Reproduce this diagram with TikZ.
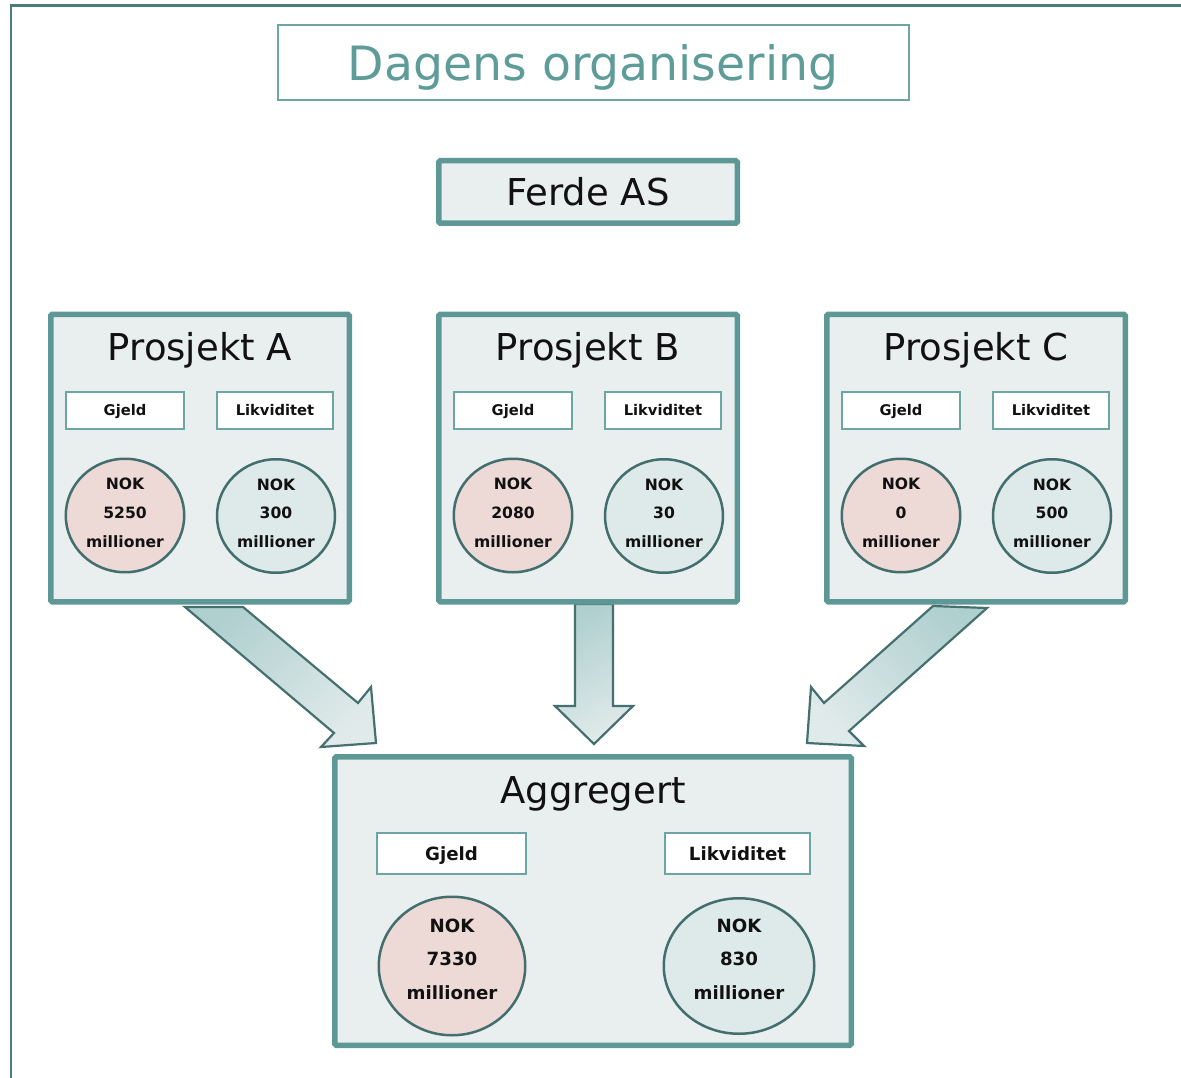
\documentclass[tikz,border=0pt]{standalone}
\usepackage{fontspec}
\setmainfont{DejaVu Sans}
\usetikzlibrary{shapes.geometric}
\definecolor{framec}{RGB}{78,122,122}
\definecolor{bord}{RGB}{94,152,150}
\definecolor{boxfill}{RGB}{233,238,238}
\definecolor{lblc}{RGB}{108,166,164}
\definecolor{circc}{RGB}{66,110,110}
\definecolor{pinkf}{RGB}{237,217,214}
\definecolor{tealf}{RGB}{221,234,233}
\definecolor{arrc}{RGB}{70,112,112}
\definecolor{arrdark}{RGB}{176,207,207}
\definecolor{arrlight}{RGB}{224,234,234}
\definecolor{titlec}{RGB}{94,156,154}
\definecolor{inkc}{RGB}{17,17,17}

\newcommand\projblock[5]{%
  \node[bigbox, minimum width=298.5, minimum height=287.5] (#1) at (#2+152,458) {};
  \node[heading] (#1h) at (#2+152,360) {#3};
  \node[lbl, minimum width=117.8, minimum height=36.8] (#1g) at (#2+77,410.5) {Gjeld};
  \node[lbl, minimum width=115.8, minimum height=36.8] (#1l) at (#2+227,410.5) {Likviditet};
  \node[circ, fill=pinkf, minimum width=118.5, minimum height=113.5] (#1gc) at (#2+77,515.5) {};
  \node[ctext] (#1gt) at (#2+77,512.7) {NOK\\#4\\millioner};
  \node[circ, fill=tealf, minimum width=118, minimum height=113.5] (#1lc) at (#2+228,516) {};
  \node[ctext] (#1lt) at (#2+228,513.2) {NOK\\#5\\millioner};
}

\begin{document}
\begin{tikzpicture}[x=1pt,y=-1pt,
  bigbox/.style={draw=bord, line width=5.5pt, fill=boxfill, rounded corners=1.5pt, inner sep=0pt},
  heading/.style={font=\fontsize{37}{44}\selectfont, text=inkc, inner sep=0pt, anchor=base},
  lbl/.style={draw=lblc, line width=2.2pt, fill=white, inner sep=0pt, text=inkc,
    font=\bfseries\fontsize{14.7}{17}\selectfont, text height=10.7pt, text depth=0pt},
  biglbl/.style={lbl, font=\bfseries\fontsize{18.2}{22}\selectfont, text height=13.3pt},
  circ/.style={ellipse, draw=circc, line width=2.5pt, inner sep=0pt},
  ctext/.style={align=center, inner sep=0pt, text=inkc, font=\bfseries\fontsize{15.6}{28.75}\selectfont},
  bigctext/.style={align=center, inner sep=0pt, text=inkc, font=\bfseries\fontsize{18.2}{33.6}\selectfont},
  blockarrow/.style={draw=arrc, line width=2.2pt, line join=miter, top color=arrdark, bottom color=arrlight}
]
\useasboundingbox (0,0) rectangle (1181,1078);
\fill[white] (0,0) rectangle (1181,1078);
% outer frame (left and top edges)
\draw[framec, line width=2.3pt] (11,1085) -- (11,5.5) -- (1190,5.5);

% title
\node[draw=lblc, line width=1.8pt, fill=white, minimum width=631, minimum height=75, inner sep=0pt] (title) at (593.5,62.5) {};
\node[anchor=base, text=titlec, font=\fontsize{47.3}{56}\selectfont, inner sep=0pt] (titletext) at (593,81) {Dagens organisering};

% Ferde AS
\node[bigbox, minimum width=298.5, minimum height=62.5, text=inkc, font=\fontsize{37}{44}\selectfont, text height=27pt, text depth=0pt] (ferde) at (588,192) {Ferde AS};

% block arrows (drawn beneath the boxes)
\draw[blockarrow, shading angle=45] (185,607) -- (243,607) -- (358,703) -- (371,687) -- (376,743) -- (321,747) -- (334,733) -- cycle;
\draw[blockarrow, shading angle=30] (575,604) -- (613,604) -- (613,706) -- (633,706) -- (594,744) -- (555,706) -- (575,706) -- cycle;
\draw[blockarrow, shading angle=-45] (933,606) -- (987,608) -- (849,731) -- (864,746) -- (807,743) -- (811,687) -- (824,703) -- cycle;

% project blocks
\projblock{pa}{48}{Prosjekt A}{5250}{300}
\projblock{pb}{436}{Prosjekt B}{2080}{30}
\projblock{pc}{824}{Prosjekt C}{0}{500}

% aggregated block
\node[bigbox, minimum width=516.5, minimum height=288.5] (agg) at (593,901) {};
\node[heading] (aggh) at (593,803) {Aggregert};
\node[biglbl, minimum width=148.8, minimum height=40.8] (aggg) at (451.5,853.5) {Gjeld};
\node[biglbl, minimum width=144.8, minimum height=40.8] (aggl) at (737.5,853.5) {Likviditet};
\node[circ, fill=pinkf, minimum width=146.5, minimum height=138.5] (agggc) at (452,966) {};
\node[bigctext] (agggt) at (452,959) {NOK\\7330\\millioner};
\node[circ, fill=tealf, minimum width=150.5, minimum height=135.5] (agglc) at (739,966) {};
\node[bigctext] (agglt) at (739,959) {NOK\\830\\millioner};
\end{tikzpicture}
\end{document}
